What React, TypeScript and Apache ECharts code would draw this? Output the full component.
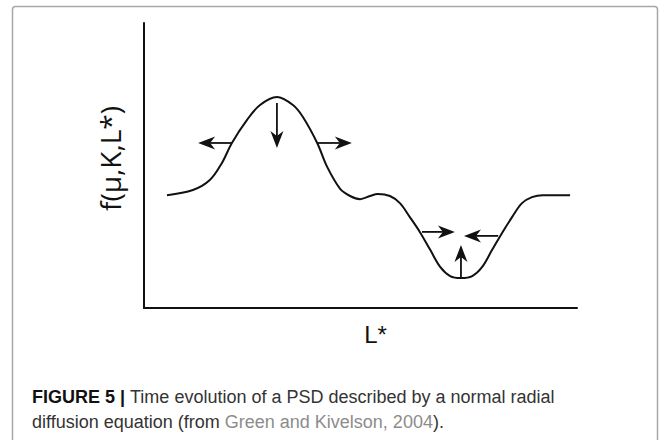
import React, { useEffect, useRef } from "react";
import * as echarts from "echarts";

// Curve f(μ,K,L*) (L* on 0..100, f on 0..100)
const curveX = [5.3, 11.3, 15.2, 18.0, 20.3, 23.8, 26.8, 30.7, 34.4, 36.7, 40.0, 42.3, 45.3, 47.6, 49.9, 52.2, 54.0, 56.8, 59.1, 61.4, 63.7, 66.1, 68.4, 70.7, 73.2, 75.8, 78.1, 80.4, 82.7, 85.0, 87.3, 89.6, 92.1, 98.4];
const curveY = [39.6, 41.4, 44.9, 50.9, 57.9, 66.0, 71.2, 74.0, 71.2, 67.0, 57.9, 49.5, 41.8, 39.3, 38.2, 39.3, 40.0, 39.3, 36.8, 31.9, 26.7, 20.4, 14.4, 11.2, 10.5, 11.2, 14.4, 20.4, 26.3, 31.9, 36.8, 38.9, 39.6, 39.6];

// Arrows: start (x, y) -> tip (x, y)
const arrowFromX = [20.3, 30.7, 40.0, 64.2, 81.8, 73.2];
const arrowFromY = [57.9, 71.9, 57.9, 26.7, 25.3, 10.9];
const arrowToX = [12.5, 30.7, 48.0, 71.8, 73.9, 73.2];
const arrowToY = [57.9, 56.1, 57.9, 26.7, 25.3, 22.1];

const yAxisName = "f(μ,K,L*)";
const xAxisName = "L*";
const captionBold = "FIGURE 5 |";
const captionLine1 = "Time evolution of a PSD described by a normal radial";
const captionLine2a = "diffusion equation (from ";
const captionRef = "Green and Kivelson, 2004";
const captionLine2b = ").";

export default function App() {
  const ref = useRef<HTMLDivElement>(null);
  useEffect(() => {
    if (!ref.current) return;
    const chart = echarts.init(ref.current, null, { renderer: "svg" });
    const curve = curveX.map((x, i) => [x, curveY[i]]);
    const arrows = arrowFromX.map((x, i) => [x, arrowFromY[i], arrowToX[i], arrowToY[i]]);
    const sans = "'Liberation Sans', Arial, sans-serif";
    chart.setOption({
      animation: false,
      backgroundColor: "#ffffff",
      grid: { left: 144, top: 23, width: 433, height: 285, containLabel: false },
      title: {
        left: 27,
        top: 379,
        text:
          "{b|" + captionBold + "} {n|" + captionLine1 + "}\n{n|" + captionLine2a + "}{g|" + captionRef + "}{n|" + captionLine2b + "}",
        textStyle: {
          fontFamily: sans,
          fontSize: 18,
          lineHeight: 25,
          color: "#333",
          fontWeight: "normal",
          rich: {
            b: { fontFamily: sans, fontSize: 18, lineHeight: 25, fontWeight: "bold", color: "#111" },
            n: { fontFamily: sans, fontSize: 18, lineHeight: 25, color: "#333" },
            g: { fontFamily: sans, fontSize: 18, lineHeight: 25, color: "#8c8c8c" },
          },
        },
      },
      graphic: [
        {
          type: "rect",
          silent: true,
          shape: { x: 12.5, y: 6.5, width: 645, height: 470, r: 3 },
          style: { fill: "none", stroke: "#a8a8a8", lineWidth: 1.5 },
        },
      ],
      xAxis: {
        type: "value",
        min: 0,
        max: 100,
        name: xAxisName,
        nameLocation: "middle",
        nameGap: 14,
        nameTextStyle: { fontFamily: sans, fontSize: 24, color: "#111", verticalAlign: "top", padding: [0, 0, 0, 30] },
        axisLine: { show: true, onZero: false, lineStyle: { color: "#111", width: 2 } },
        axisTick: { show: false },
        axisLabel: { show: false },
        splitLine: { show: false },
      },
      yAxis: {
        type: "value",
        min: 0,
        max: 100,
        name: yAxisName,
        nameLocation: "middle",
        nameRotate: 90,
        nameGap: 20,
        nameTextStyle: { fontFamily: "'Open Sans', 'Noto Sans', sans-serif", fontSize: 28, color: "#111", padding: [0, 0, 0, 14] },
        axisLine: { show: true, onZero: false, lineStyle: { color: "#111", width: 2 } },
        axisTick: { show: false },
        axisLabel: { show: false },
        splitLine: { show: false },
      },
      series: [
        {
          type: "line",
          data: curve,
          smooth: 0.35,
          showSymbol: false,
          symbol: "none",
          lineStyle: { color: "#111", width: 2 },
          silent: true,
        },
        {
          type: "custom",
          data: arrows,
          encode: { x: [0, 2], y: [1, 3] },
          silent: true,
          renderItem: (params: any, api: any) => {
            const p1 = api.coord([api.value(0), api.value(1)]);
            const p2 = api.coord([api.value(2), api.value(3)]);
            const dx = p2[0] - p1[0];
            const dy = p2[1] - p1[1];
            const len = Math.hypot(dx, dy) || 1;
            const ux = dx / len;
            const uy = dy / len;
            const nx = -uy;
            const ny = ux;
            const headLen = 17;
            const halfW = 6.5;
            const notch = 5;
            const bx = p2[0] - ux * headLen;
            const by = p2[1] - uy * headLen;
            const mx = p2[0] - ux * (headLen - notch);
            const my = p2[1] - uy * (headLen - notch);
            return {
              type: "group",
              children: [
                {
                  type: "line",
                  shape: { x1: p1[0], y1: p1[1], x2: mx, y2: my },
                  style: { stroke: "#111", lineWidth: 1.8 },
                },
                {
                  type: "polygon",
                  shape: {
                    points: [
                      [p2[0], p2[1]],
                      [bx + nx * halfW, by + ny * halfW],
                      [mx, my],
                      [bx - nx * halfW, by - ny * halfW],
                    ],
                  },
                  style: { fill: "#111" },
                },
              ],
            };
          },
        },
      ],
    });
    return () => chart.dispose();
  }, []);
  return (
    <div
      ref={ref}
      style={{ position: "fixed", left: 0, top: 0, width: 662, height: 440, background: "#fff" }}
    />
  );
}
